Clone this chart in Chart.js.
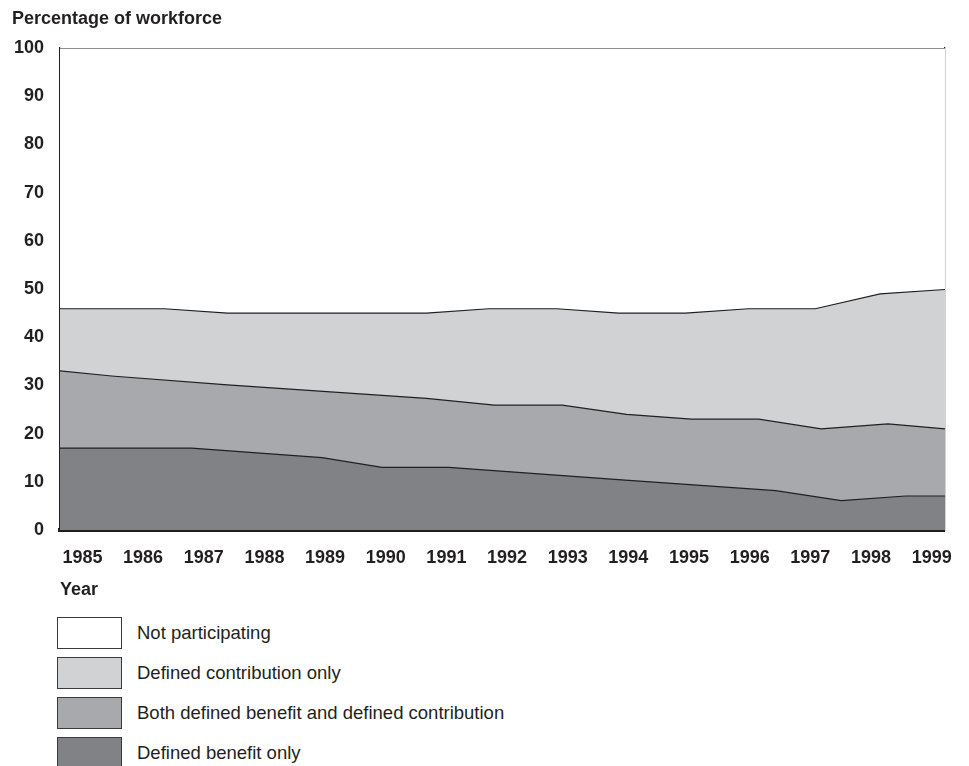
<!DOCTYPE html>
<html>
<head>
<meta charset="utf-8">
<script src="https://cdn.jsdelivr.net/npm/chart.js@4.4.1/dist/chart.umd.min.js"></script>
<style>
    body { margin: 0; background: #fff; }
    #wrap { position: relative; width: 969px; height: 766px; }
    #chart { position: absolute; left: 0; top: 0; }
    #legend { position: absolute; left: 57px; top: 617px; font-family: "Liberation Sans", Arial, sans-serif; font-size: 18.5px; color: #231f20; }
    .row { display: flex; align-items: center; height: 32px; margin-bottom: 8px; }
    .box { width: 63px; height: 30px; border: 1px solid #3a3a3a; margin-right: 15px; }
</style>
</head>
<body>
<div id="wrap">
    <canvas id="chart" width="969" height="605"></canvas>
    <div id="legend"></div>
</div>
<script>
// rentang sumbu x (tahun), dibaca dari posisi label
const xMin = 1984.63;
const xMax = 1999.22;
const yearTicks = [1985, 1986, 1987, 1988, 1989, 1990, 1991, 1992, 1993, 1994, 1995, 1996, 1997, 1998, 1999];

// batas atas tiap lapisan (persen kumulatif)
const dbYears = [xMin, 1986.80, 1988.95, 1989.94, 1991.04, 1993.89, 1996.43, 1997.51, 1998.57, xMax];
const dbValues = [17.0, 17.0, 15.0, 13.0, 13.0, 10.4, 8.15, 6.1, 7.05, 7.05];

const bothYears = [xMin, 1985.48, 1987.39, 1990.67, 1991.79, 1992.91, 1993.97, 1995.04, 1996.15, 1997.18, 1998.28, xMax];
const bothValues = [33.0, 31.95, 30.1, 27.3, 25.9, 25.9, 24.0, 23.0, 23.0, 21.0, 22.0, 21.0];

const dcYears = [xMin, 1986.35, 1987.39, 1990.67, 1991.70, 1992.82, 1993.84, 1994.94, 1995.98, 1997.08, 1998.15, xMax];
const dcValues = [45.9, 45.9, 45.0, 45.0, 45.9, 45.9, 45.0, 45.0, 45.9, 45.9, 49.0, 49.9];

const notYears = [xMin, xMax];
const notValues = [100, 100];

const labels = [
    "Defined benefit only",
    "Both defined benefit and defined contribution",
    "Defined contribution only",
    "Not participating",
];
const colors = ["#818285", "#a8a9ac", "#d1d2d4", "#ffffff"];

const ink = "#231f20";
const fontFamily = '"Liberation Sans", Arial, sans-serif';
const boldFont = { family: fontFamily, size: 18, weight: "bold" };

const toPoints = (xs, ys) => xs.map((x, i) => ({ x: x, y: ys[i] }));
const series = [
    toPoints(dbYears, dbValues),
    toPoints(bothYears, bothValues),
    toPoints(dcYears, dcValues),
    toPoints(notYears, notValues),
];

new Chart(document.getElementById("chart"), {
    type: "line",
    data: {
        datasets: series.map((pts, i) => ({
            label: labels[i],
            data: pts,
            backgroundColor: colors[i],
            borderColor: ink,
            borderWidth: 1.2,
            pointRadius: 0,
            tension: 0,
            fill: "origin",
        })),
    },
    options: {
        responsive: false,
        animation: false,
        layout: { padding: { left: 12, right: 22, top: 0, bottom: 0 } },
        plugins: {
            legend: { display: false },
            tooltip: { enabled: false },
            title: {
                display: true,
                text: "Percentage of workforce",
                align: "start",
                color: ink,
                font: boldFont,
                padding: { top: 8, bottom: 18.4 },
            },
        },
        scales: {
            x: {
                type: "linear",
                min: xMin,
                max: xMax,
                z: 1,
                afterBuildTicks: (scale) => {
                    scale.ticks = yearTicks.map((v) => ({ value: v }));
                },
                afterFit: (scale) => {
                    // padding tick dihitung dua kali oleh Chart.js, jadi tinggi ditetapkan
                    scale.height = 75;
                },
                ticks: {
                    color: ink,
                    padding: 17,
                    maxRotation: 0,
                    autoSkip: false,
                    font: boldFont,
                    callback: (v) => String(v),
                },
                grid: { color: "transparent", drawTicks: false },
                border: { display: true, width: 4, color: ink },
                title: {
                    display: true,
                    text: "Year",
                    align: "start",
                    color: ink,
                    font: boldFont,
                    padding: { top: 6, bottom: 4 },
                },
            },
            y: {
                min: 0,
                max: 100,
                z: 1,
                afterFit: (scale) => {
                    scale.width = 48;
                },
                ticks: {
                    stepSize: 10,
                    color: ink,
                    padding: 16,
                    font: boldFont,
                },
                grid: { color: "transparent", drawTicks: false },
                border: { display: true, width: 1.2, color: ink },
            },
            yRight: {
                position: "right",
                min: 0,
                max: 100,
                z: 1,
                afterFit: (scale) => {
                    scale.width = 0;
                },
                ticks: { display: false },
                grid: { color: "transparent", drawTicks: false },
                border: { display: true, width: 1.2, color: ink },
            },
        },
    },
});

// legenda manual, urutan dari atas seperti gambar
const legend = document.getElementById("legend");
for (let i = labels.length - 1; i >= 0; i--) {
    const row = document.createElement("div");
    row.className = "row";
    const box = document.createElement("div");
    box.className = "box";
    box.style.background = colors[i];
    const text = document.createElement("span");
    text.textContent = labels[i];
    row.appendChild(box);
    row.appendChild(text);
    legend.appendChild(row);
}
</script>
</body>
</html>
